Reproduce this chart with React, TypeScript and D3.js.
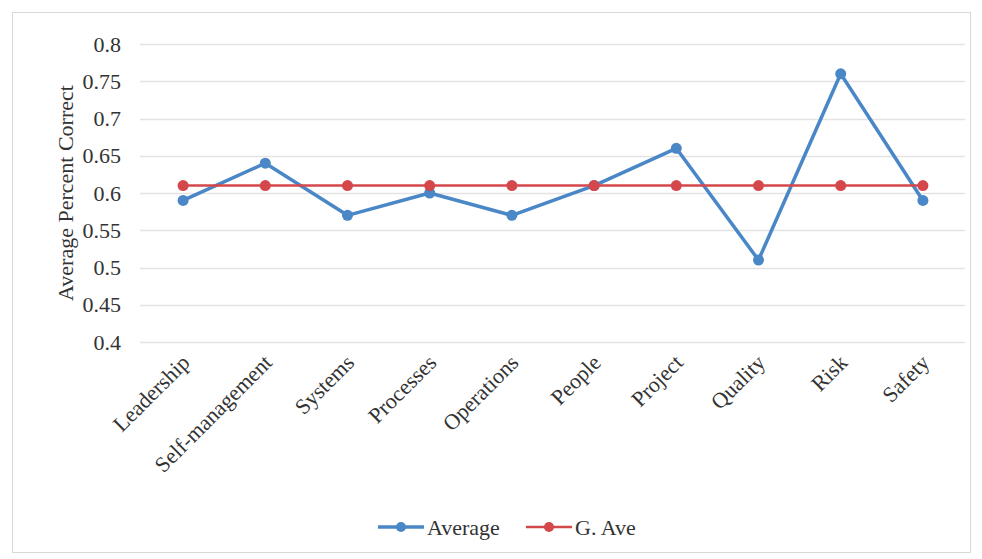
import React, { useEffect, useRef } from 'react';
import * as d3 from 'd3';

const categories = ['Leadership', 'Self-management', 'Systems', 'Processes', 'Operations', 'People', 'Project', 'Quality', 'Risk', 'Safety'];
const averageValues = [0.59, 0.64, 0.57, 0.6, 0.57, 0.61, 0.66, 0.51, 0.76, 0.59];
const gAveValues = [0.61, 0.61, 0.61, 0.61, 0.61, 0.61, 0.61, 0.61, 0.61, 0.61];
const yTicks = [0.4, 0.45, 0.5, 0.55, 0.6, 0.65, 0.7, 0.75, 0.8];

const WIDTH = 982;
const HEIGHT = 559;
const FONT = '"Liberation Serif", "Times New Roman", serif';

const App: React.FC = () => {
  const svgRef = useRef<SVGSVGElement>(null);

  useEffect(() => {
    document.body.style.margin = '0';
    if (!svgRef.current) return;
    const svg = d3.select(svgRef.current);
    svg.selectAll('*').remove();

    const blue = '#4A87C6';
    const red = '#D4474B';

    // chart frame
    svg.append('rect')
      .attr('x', 12.5).attr('y', 12.5)
      .attr('width', 958).attr('height', 540)
      .attr('fill', 'white')
      .attr('stroke', '#D9D9D9')
      .attr('stroke-width', 1);

    const x = d3.scaleBand<string>().domain(categories).range([142, 964]);
    const y = d3.scaleLinear().domain([0.4, 0.8]).range([342, 44]);

    // grid
    svg.append('g')
      .selectAll('line')
      .data(yTicks)
      .join('line')
      .attr('x1', 140).attr('x2', 965)
      .attr('y1', d => Math.round(y(d)) + 0.5)
      .attr('y2', d => Math.round(y(d)) + 0.5)
      .attr('stroke', '#E3E3E3')
      .attr('stroke-width', 1.5);

    // y axis labels
    svg.append('g')
      .selectAll('text')
      .data(yTicks)
      .join('text')
      .attr('x', 121)
      .attr('y', d => y(d))
      .attr('dy', '0.35em')
      .attr('text-anchor', 'end')
      .style('font-family', FONT)
      .style('font-size', '22px')
      .style('fill', '#333')
      .text(d => String(+d.toFixed(2)));

    // y axis title
    svg.append('text')
      .attr('transform', `translate(73,${y(0.6)}) rotate(-90)`)
      .attr('text-anchor', 'middle')
      .style('font-family', FONT)
      .style('font-size', '22px')
      .style('fill', '#333')
      .text('Average Percent Correct');

    // x labels
    svg.append('g')
      .selectAll('text')
      .data(categories)
      .join('text')
      .attr('transform', d => `translate(${(x(d) || 0) + x.bandwidth() / 2 + 8},${364}) rotate(-45)`)
      .attr('text-anchor', 'end')
      .style('font-family', FONT)
      .style('font-size', '22px')
      .style('fill', '#333')
      .text(d => d);

    const cx = (i: number) => (x(categories[i]) || 0) + x.bandwidth() / 2;

    const drawSeries = (values: number[], color: string, width: number) => {
      const line = d3.line<number>().x((_, i) => cx(i)).y(d => y(d));
      svg.append('path')
        .datum(values)
        .attr('fill', 'none')
        .attr('stroke', color)
        .attr('stroke-width', width)
        .attr('stroke-linejoin', 'round')
        .attr('d', line);
      svg.append('g')
        .selectAll('circle')
        .data(values)
        .join('circle')
        .attr('cx', (_, i) => cx(i))
        .attr('cy', d => y(d))
        .attr('r', 5.5)
        .attr('fill', color);
    };

    drawSeries(averageValues, blue, 3.5);
    drawSeries(gAveValues, red, 2.5);

    // legend
    const legendItems = [
      { name: 'Average', color: blue, x: 378, w: 3.5 },
      { name: 'G. Ave', color: red, x: 526, w: 2.5 },
    ];
    const legend = svg.append('g').attr('transform', 'translate(0,527)');
    legendItems.forEach(item => {
      const g = legend.append('g').attr('transform', `translate(${item.x},0)`);
      g.append('line')
        .attr('x1', 0).attr('x2', 46)
        .attr('y1', 0).attr('y2', 0)
        .attr('stroke', item.color)
        .attr('stroke-width', item.w);
      g.append('circle').attr('cx', 23).attr('cy', 0).attr('r', 5).attr('fill', item.color);
      g.append('text')
        .attr('x', 49)
        .attr('y', 0)
        .attr('dy', '0.35em')
        .style('font-family', FONT)
        .style('font-size', '22px')
        .style('fill', '#333')
        .text(item.name);
    });
  }, []);

  return <svg ref={svgRef} width={WIDTH} height={HEIGHT} style={{ display: 'block' }} />;
};

export default App;
